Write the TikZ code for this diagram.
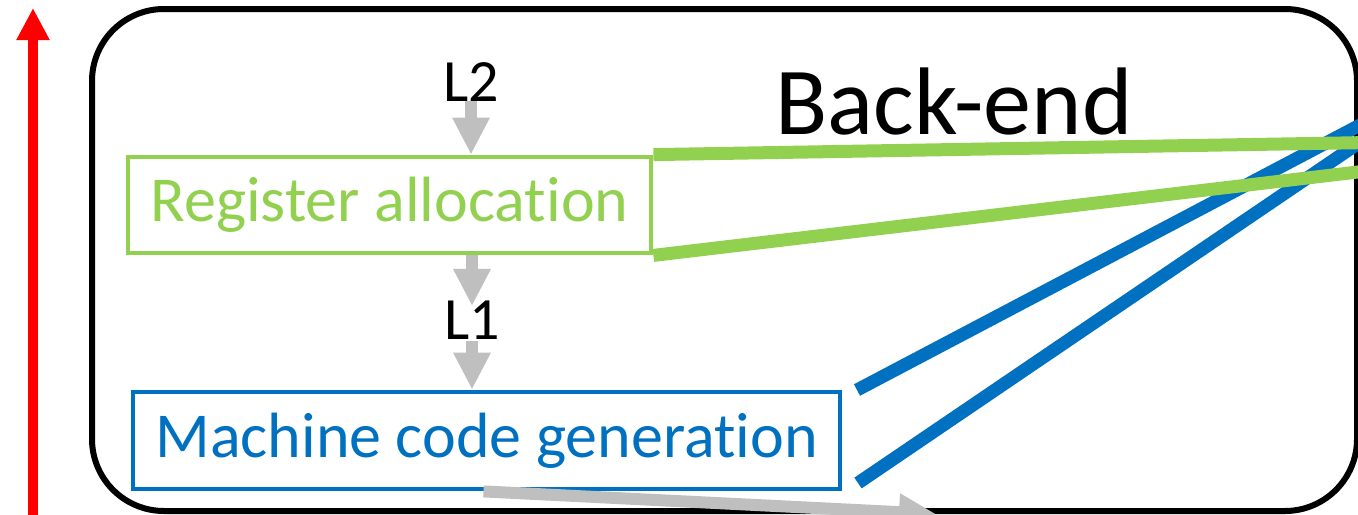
\documentclass[tikz,border=0pt]{standalone}
\usepackage{fontspec}
\setmainfont{Carlito}[Ligatures={CommonOff}]
\usetikzlibrary{arrows.meta}
\definecolor{stagegreen}{RGB}{146,208,80}
\definecolor{stageblue}{RGB}{0,112,192}
\definecolor{flowgrey}{RGB}{191,191,191}
\tikzset{
  stagebox/.style={draw, line width=2.4pt, inner sep=0pt, font=\fontsize{32}{38}\selectfont},
  levellabel/.style={inner sep=0pt, font=\fontsize{30}{35}\selectfont},
  flow/.style={draw=flowgrey, line width=6pt, -{Triangle[length=18.5pt, width=17.5pt]}},
  zoomline/.style={line width=6.5pt},
}
\begin{document}
\begin{tikzpicture}[x=0.5pt, y=-0.5pt]
  \useasboundingbox (0,0) rectangle (1358,514);
  \clip (0,0) rectangle (1358,514);

  % back-end frame
  \draw[line width=3pt, rounded corners=36pt] (92,9) rectangle (1357,511);
  \node[font=\fontsize{48}{56}\selectfont, inner sep=0pt, anchor=base] (backend) at (954,134) {Back-end};

  % direction of the pipeline
  \coordinate (redlow) at (33,520);
  \coordinate (redhigh) at (33,8);
  \draw[red, line width=5pt, -{Triangle[length=16pt, width=15.5pt]}] (redlow) -- (redhigh);

  % stages
  \node[stagebox, draw=stagegreen, text=stagegreen, minimum width=261.5pt, minimum height=48pt]
    (reg) at (389.5,205) {Register allocation};
  \node[stagebox, draw=stageblue, text=stageblue, minimum width=353.5pt, minimum height=48.5pt]
    (mach) at (486.5,440.5) {Machine code generation};

  % zoom lines towards the right
  \coordinate (bupA) at (857,390);
  \coordinate (bupB) at (1400,104);
  \coordinate (blowA) at (858,483);
  \coordinate (blowB) at (1400,115);
  \draw[zoomline, stageblue] (bupA) -- (bupB);
  \draw[zoomline, stageblue] (blowA) -- (blowB);
  \coordinate (gupB) at (1400,142);
  \coordinate (glowB) at (1400,167);
  \draw[zoomline, stagegreen] (reg.north east) -- (gupB);
  \draw[zoomline, stagegreen] (reg.south east) -- (glowB);

  % intermediate languages
  \node[levellabel, anchor=base] (L2) at (471,101) {L2};
  \node[levellabel, anchor=base] (L1) at (472,339) {L1};

  \draw[flow] (L2.south) -- (reg.north -| L2.south);
  \draw[flow] (reg.south -| L1.north) -- ([yshift=-3pt]L1.north);
  \draw[flow] ([yshift=-1pt]L1.south) -- (mach.north -| L1.south);
  \coordinate (out) at (936,514);
  \draw[flow] ([xshift=-1.5pt]mach.south) -- (out);
\end{tikzpicture}
\end{document}
